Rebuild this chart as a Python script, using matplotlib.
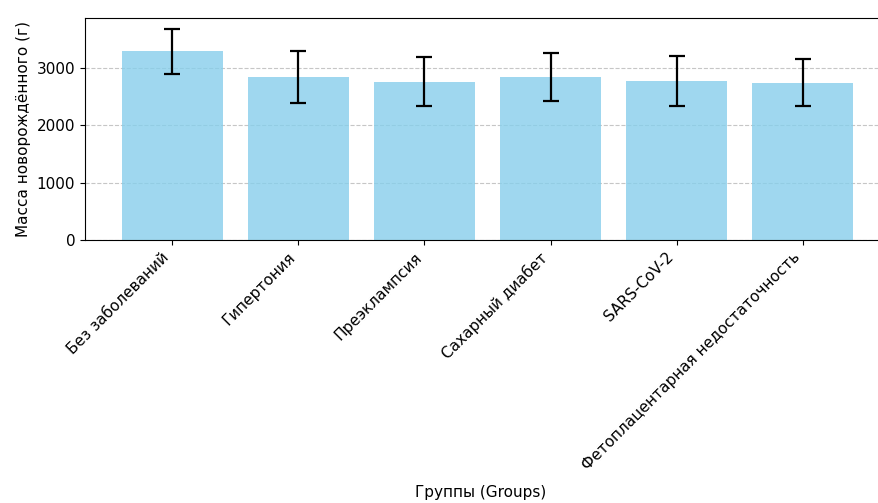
import matplotlib
matplotlib.use('Agg')
import matplotlib.pyplot as plt
import numpy as np

# данные по группам
groups = ['Без заболеваний', 'Гипертония', 'Преэклампсия', 'Сахарный диабет',
          'SARS-CoV-2', 'Фетоплацентарная недостаточность']
mean_weight = [3290, 2845, 2765, 2845, 2780, 2745]
sd_weight = [400, 450, 425, 427, 440, 410]

fig = plt.figure(figsize=(8.79, 5.03), dpi=100)
ax = fig.add_axes([85 / 879, 1 - 240 / 503, 805 / 879, 222 / 503])

x = np.arange(len(groups))
ax.bar(x, mean_weight, yerr=sd_weight, color='skyblue', alpha=0.8, width=0.8,
       capsize=6, error_kw={'elinewidth': 1.6, 'capthick': 1.6, 'ecolor': 'black'})

ax.set_xticks(x)
ax.set_xticklabels(groups, rotation=45, ha='right', fontsize=11)
ax.tick_params(axis='y', labelsize=11)
ax.set_ylabel('Масса новорождённого (г)', fontsize=11)
ax.set_xlabel('Группы (Groups)', fontsize=11)
ax.xaxis.set_label_coords(0.492, -1.105)
ax.yaxis.grid(True, linestyle='--', color='#b8b8b8', alpha=0.8)
ax.set_axisbelow(True)

fig.savefig('out.png', dpi=100)
